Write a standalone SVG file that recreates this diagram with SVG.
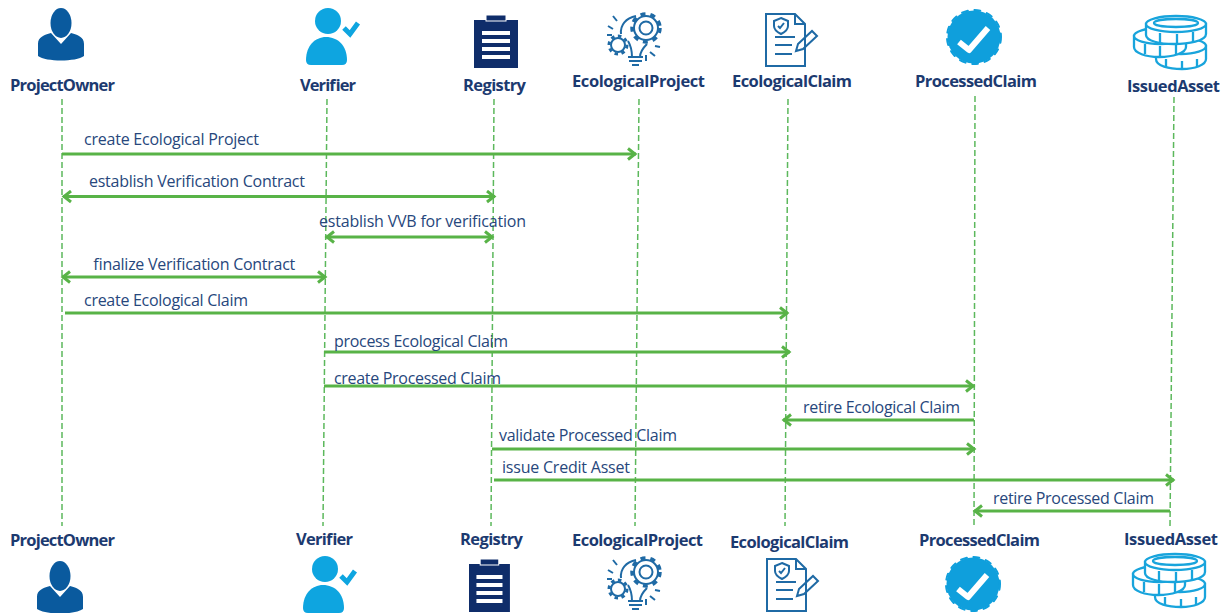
<svg xmlns="http://www.w3.org/2000/svg" width="1225" height="613" viewBox="0 0 1225 613">
<style>
.life{stroke:#5cb85c;stroke-width:1.5;stroke-dasharray:6 3;fill:none}
.msg{stroke:#58b347;stroke-width:3;fill:none}
.name{font-family:"Open Sans","Noto Sans",sans-serif;font-size:16.500px;font-weight:700;fill:#1c3a70}
.lbl{font-family:"Open Sans","Noto Sans",sans-serif;font-size:16px;fill:#27477c}
.ln{fill:none;stroke:#1f6aa5;stroke-width:2}
.coin{fill:#fff;stroke:#18a4dc;stroke-width:2.300}
</style>
<defs>
<marker id="head" viewBox="0 0 14 14" refX="12" refY="7" markerWidth="14" markerHeight="14" markerUnits="userSpaceOnUse" orient="auto-start-reverse">
<path d="M4 1.500 L11 7 L4 12.500" fill="none" stroke="#58b347" stroke-width="3"/>
</marker>
<g id="i-owner" fill="#0a5a9e">
<ellipse cx="23" cy="15" rx="10.500" ry="15"/>
<path d="M13 25 L23 36 L33 25 C40 27 46 29 46 36 L46 48 C38 54 8 54 0 48 L0 36 C0 29 6 27 13 25Z"/>
</g>
<g id="i-verifier" fill="#0ea5e0">
<circle cx="22" cy="13" r="13"/>
<path d="M0 52 C0 38 9 29 20 29 C32 29 41 38 41 52 Q41 57 36 57 L5 57 Q0 57 0 52Z"/>
<path d="M38 20 L44 26 L52 15" fill="none" stroke="#0ea5e0" stroke-width="5"/>
</g>
<g id="i-registry">
<rect x="0" y="5" width="44" height="48" fill="#0f2d6a"/>
<rect x="12" y="0" width="20" height="6" fill="#0f2d6a" stroke="#fff" stroke-width="1"/>
<g fill="#fff"><rect x="8" y="16" width="28" height="4"/><rect x="8" y="24" width="28" height="4"/><rect x="8" y="32" width="28" height="4"/><rect x="8" y="40" width="28" height="4"/></g>
</g>
<g id="i-project" class="ln">
<circle cx="39" cy="15" r="6.500"/>
<circle cx="39" cy="15" r="12"/>
<circle cx="39" cy="15" r="14" stroke-width="3.500" stroke-dasharray="5 5"/>
<circle cx="11" cy="32" r="7"/>
<circle cx="11" cy="32" r="9" stroke-width="3" stroke-dasharray="3.500 3.500"/>
<path d="M29 3 C19 5 13 12 14 21 M21 28 C24 33 25 38 25 44 M40 31 C36 35 33 39 33 44 M21 44 H36 M22 48 H35 M25 52 H32"/>
<path d="M1 13 L6 16 M6 3 L10 8 M0 22 L5 22 M48 33 L53 34 M43 39 L48 43 M39 42 L39 48"/>
</g>
<g id="i-claim" class="ln">
<path d="M1 1 H30 L40 11 V53 H1Z"/>
<path d="M30 1 V11 H40"/>
<path d="M16 5 L23 8 V13 C23 17 20 19 16 21 C12 19 9 17 9 13 V8Z"/>
<path d="M13 13 L15 15 L19 10"/>
<path d="M10 24 H30 M10 32 H27 M10 41 H27"/>
<path d="M33 31 L47 18 L52 23 L38 36 L31 38Z"/>
</g>
<g id="i-badge">
<circle cx="28" cy="28" r="26.500" fill="#0f9fdc"/>
<circle cx="28" cy="28" r="27" fill="none" stroke="#0f9fdc" stroke-width="2" stroke-linecap="round" stroke-dasharray="6 6.720"/>
<path d="M13 33 L23 41 L42 19" fill="none" stroke="#fff" stroke-width="6" stroke-linejoin="round"/>
</g>
<g id="i-coins" class="coin">
<path d="M23 31 V44 C23 51 36 54 49 54 C62 54 73 50 73 44 V31Z"/>
<ellipse cx="48" cy="31" rx="25" ry="8"/>
<path d="M33 44 V53 M49 46 V54 M64 44 V52"/>
<path d="M1 21 V32 C1 38 13 42 26 42 C40 42 53 38 53 32 V21Z"/>
<ellipse cx="27" cy="21" rx="26" ry="8"/>
<path d="M12 29 V39 M27 31 V42 M43 29 V39"/>
<path d="M13 9 V20 C13 26 27 29 41 29 C55 29 73 26 73 19 V9Z"/>
<ellipse cx="43" cy="9" rx="30" ry="8"/>
<ellipse cx="43" cy="8" rx="22" ry="4"/>
<path d="M27 18 V27 M44 19 V29 M60 17 V27"/>
</g>
</defs>
<rect width="1225" height="613" fill="#fff"/>

<g id="lifelines">
<line class="life" x1="62" y1="99" x2="62" y2="526"/>
<line class="life" x1="327" y1="99" x2="323" y2="526"/>
<line class="life" x1="494" y1="99" x2="491" y2="526"/>
<line class="life" x1="639" y1="99" x2="635" y2="526"/>
<line class="life" x1="788" y1="99" x2="785" y2="526"/>
<line class="life" x1="975" y1="96" x2="974" y2="526"/>
<line class="life" x1="1174" y1="97" x2="1170" y2="526"/>
</g>

<g id="connectors">
<line class="msg" x1="62" y1="154" x2="636" y2="154" marker-end="url(#head)"/>
<line class="msg" x1="63" y1="196.500" x2="495" y2="196.500" marker-start="url(#head)" marker-end="url(#head)"/>
<line class="msg" x1="326" y1="237" x2="493" y2="237" marker-start="url(#head)" marker-end="url(#head)"/>
<line class="msg" x1="62" y1="277" x2="326" y2="277" marker-start="url(#head)" marker-end="url(#head)"/>
<line class="msg" x1="65" y1="313" x2="788" y2="313" marker-end="url(#head)"/>
<line class="msg" x1="324" y1="352" x2="790" y2="352" marker-end="url(#head)"/>
<line class="msg" x1="324" y1="386" x2="974" y2="386" marker-end="url(#head)"/>
<line class="msg" x1="974" y1="420" x2="783" y2="420" marker-end="url(#head)"/>
<line class="msg" x1="492" y1="449" x2="975" y2="449" marker-end="url(#head)"/>
<line class="msg" x1="494" y1="480" x2="1174" y2="480" marker-end="url(#head)"/>
<line class="msg" x1="1170" y1="511" x2="974" y2="511" marker-end="url(#head)"/>
</g>

<g id="labels">
<text class="lbl" x="84" y="145" textLength="175">create Ecological Project</text>
<text class="lbl" x="89" y="187" textLength="216">establish Verification Contract</text>
<text class="lbl" x="319" y="227" textLength="207">establish VVB for verification</text>
<text class="lbl" x="93" y="270" textLength="202">finalize Verification Contract</text>
<text class="lbl" x="84" y="306" textLength="164">create Ecological Claim</text>
<text class="lbl" x="334" y="347" textLength="174">process Ecological Claim</text>
<text class="lbl" x="334" y="384" textLength="167">create Processed Claim</text>
<text class="lbl" x="803" y="413" textLength="157">retire Ecological Claim</text>
<text class="lbl" x="499" y="441" textLength="178">validate Processed Claim</text>
<text class="lbl" x="502" y="473" textLength="128">issue Credit Asset</text>
<text class="lbl" x="993" y="504" textLength="161">retire Processed Claim</text>
</g>

<g id="ProjectOwner-top"><use href="#i-owner" transform="translate(38 8)"/><text class="name" x="10" y="91" textLength="105">ProjectOwner</text></g>
<g id="Verifier-top"><use href="#i-verifier" transform="translate(306 8)"/><text class="name" x="300" y="91" textLength="56">Verifier</text></g>
<g id="Registry-top"><use href="#i-registry" transform="translate(474 15)"/><text class="name" x="463" y="91" textLength="63">Registry</text></g>
<g id="EcologicalProject-top"><use href="#i-project" transform="translate(607 13)"/><text class="name" x="572" y="87" textLength="133">EcologicalProject</text></g>
<g id="EcologicalClaim-top"><use href="#i-claim" transform="translate(765 13)"/><text class="name" x="732" y="87" textLength="120">EcologicalClaim</text></g>
<g id="ProcessedClaim-top"><use href="#i-badge" transform="translate(946 9)"/><text class="name" x="915" y="87" textLength="122">ProcessedClaim</text></g>
<g id="IssuedAsset-top"><use href="#i-coins" transform="translate(1133 15)"/><text class="name" x="1127" y="92" textLength="93">IssuedAsset</text></g>

<g id="ProjectOwner-bottom"><text class="name" x="10" y="546" textLength="105">ProjectOwner</text><use href="#i-owner" transform="translate(37 561)"/></g>
<g id="Verifier-bottom"><text class="name" x="296" y="545" textLength="57">Verifier</text><use href="#i-verifier" transform="translate(303 556)"/></g>
<g id="Registry-bottom"><text class="name" x="460" y="545" textLength="63">Registry</text><use href="#i-registry" transform="translate(469 559) scale(.93 1)"/></g>
<g id="EcologicalProject-bottom"><text class="name" x="572" y="546" textLength="131">EcologicalProject</text><use href="#i-project" transform="translate(607 557)"/></g>
<g id="EcologicalClaim-bottom"><text class="name" x="730" y="548" textLength="119">EcologicalClaim</text><use href="#i-claim" transform="translate(766 558)"/></g>
<g id="ProcessedClaim-bottom"><text class="name" x="919" y="546" textLength="121">ProcessedClaim</text><use href="#i-badge" transform="translate(945 556)"/></g>
<g id="IssuedAsset-bottom"><text class="name" x="1124" y="545" textLength="94">IssuedAsset</text><use href="#i-coins" transform="translate(1132 553)"/></g>
</svg>
